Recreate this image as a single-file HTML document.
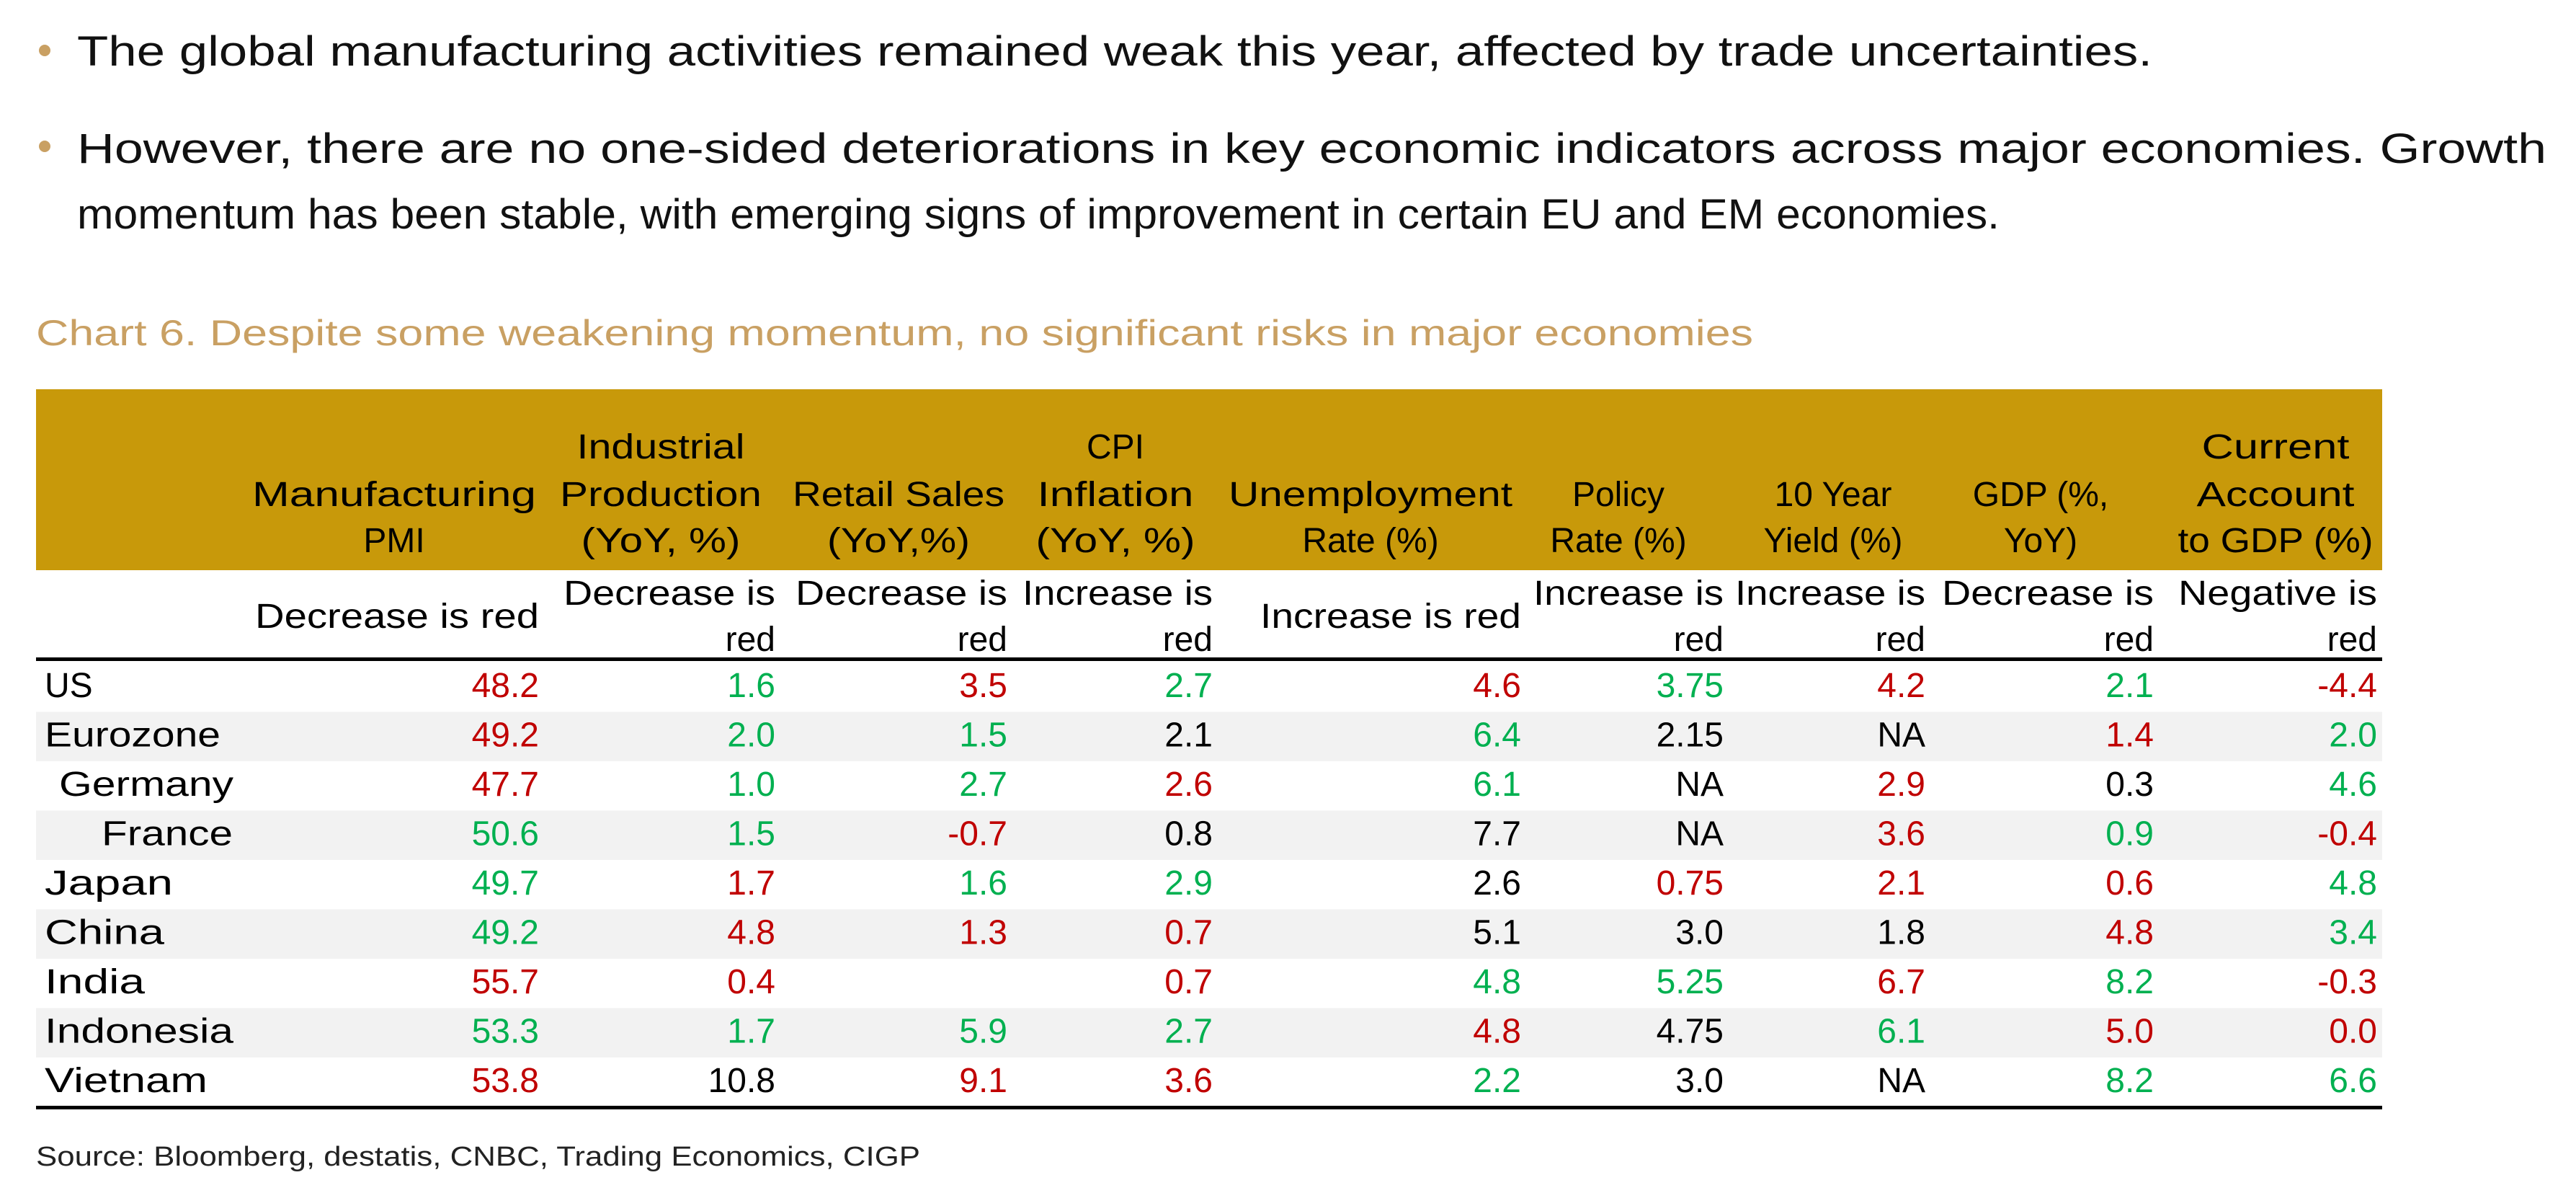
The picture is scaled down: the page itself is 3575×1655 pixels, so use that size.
<!DOCTYPE html>
<html><head><meta charset="utf-8"><style>html,body{margin:0;padding:0;background:#fff}svg{display:block}text{font-family:"Liberation Sans",sans-serif}</style></head><body>
<svg width="3575" height="1655" viewBox="0 0 3575 1655" xmlns="http://www.w3.org/2000/svg">
<rect width="3575" height="1655" fill="#fff"/>
<circle cx="62" cy="70" r="8" fill="#C9A063"/>
<text x="107" y="91" font-size="58" textLength="2880" lengthAdjust="spacingAndGlyphs" fill="#111">The global manufacturing activities remained weak this year, affected by trade uncertainties.</text>
<circle cx="62" cy="203" r="8" fill="#C9A063"/>
<text x="107" y="226" font-size="58" textLength="3427" lengthAdjust="spacingAndGlyphs" fill="#111">However, there are no one-sided deteriorations in key economic indicators across major economies. Growth</text>
<text x="107" y="317" font-size="58" textLength="2668" lengthAdjust="spacingAndGlyphs" fill="#111">momentum has been stable, with emerging signs of improvement in certain EU and EM economies.</text>
<text x="50" y="479" font-size="50" textLength="2383" lengthAdjust="spacingAndGlyphs" fill="#C9A063">Chart 6. Despite some weakening momentum, no significant risks in major economies</text>
<rect x="50" y="540" width="3256" height="251" fill="#C8990A"/>
<g font-size="48" fill="#000" text-anchor="middle">
<text x="547" y="702" textLength="394" lengthAdjust="spacingAndGlyphs">Manufacturing</text><text x="547" y="766">PMI</text>
<text x="917" y="636" textLength="233" lengthAdjust="spacingAndGlyphs">Industrial</text><text x="917" y="702" textLength="280" lengthAdjust="spacingAndGlyphs">Production</text><text x="917" y="766" textLength="221" lengthAdjust="spacingAndGlyphs">(YoY, %)</text>
<text x="1247" y="702" textLength="294" lengthAdjust="spacingAndGlyphs">Retail Sales</text><text x="1247" y="766" textLength="198" lengthAdjust="spacingAndGlyphs">(YoY,%)</text>
<text x="1548" y="636">CPI</text><text x="1548" y="702" textLength="217" lengthAdjust="spacingAndGlyphs">Inflation</text><text x="1548" y="766" textLength="221" lengthAdjust="spacingAndGlyphs">(YoY, %)</text>
<text x="1902" y="702" textLength="394" lengthAdjust="spacingAndGlyphs">Unemployment</text><text x="1902" y="766">Rate (%)</text>
<text x="2246" y="702">Policy</text><text x="2246" y="766">Rate (%)</text>
<text x="2544" y="702">10 Year</text><text x="2544" y="766">Yield (%)</text>
<text x="2832" y="702">GDP (%,</text><text x="2832" y="766">YoY)</text>
<text x="3158" y="636" textLength="205" lengthAdjust="spacingAndGlyphs">Current</text><text x="3158" y="702" textLength="219" lengthAdjust="spacingAndGlyphs">Account</text><text x="3158" y="766" textLength="271" lengthAdjust="spacingAndGlyphs">to GDP (%)</text>
</g>
<g font-size="48" fill="#000" text-anchor="end">
<text x="748" y="871" textLength="394" lengthAdjust="spacingAndGlyphs">Decrease is red</text>
<text x="1076" y="839" textLength="294" lengthAdjust="spacingAndGlyphs">Decrease is</text><text x="1076" y="903">red</text>
<text x="1398" y="839" textLength="294" lengthAdjust="spacingAndGlyphs">Decrease is</text><text x="1398" y="903">red</text>
<text x="1683" y="839" textLength="264" lengthAdjust="spacingAndGlyphs">Increase is</text><text x="1683" y="903">red</text>
<text x="2111" y="871" textLength="362" lengthAdjust="spacingAndGlyphs">Increase is red</text>
<text x="2392" y="839" textLength="264" lengthAdjust="spacingAndGlyphs">Increase is</text><text x="2392" y="903">red</text>
<text x="2672" y="839" textLength="264" lengthAdjust="spacingAndGlyphs">Increase is</text><text x="2672" y="903">red</text>
<text x="2989" y="839" textLength="294" lengthAdjust="spacingAndGlyphs">Decrease is</text><text x="2989" y="903">red</text>
<text x="3299" y="839" textLength="276" lengthAdjust="spacingAndGlyphs">Negative is</text><text x="3299" y="903">red</text>
</g>
<rect x="50" y="987.5" width="3256" height="68.5" fill="#F2F2F2"/>
<rect x="50" y="1124.5" width="3256" height="68.5" fill="#F2F2F2"/>
<rect x="50" y="1261.5" width="3256" height="68.5" fill="#F2F2F2"/>
<rect x="50" y="1398.5" width="3256" height="68.5" fill="#F2F2F2"/>
<rect x="50" y="912" width="3256" height="5" fill="#000"/>
<rect x="50" y="1534" width="3256" height="5" fill="#000"/>
<g font-size="48" fill="#000">
<text x="62" y="967">US</text>
<text x="62" y="1035.5" textLength="244" lengthAdjust="spacingAndGlyphs">Eurozone</text>
<text x="82" y="1104" textLength="242" lengthAdjust="spacingAndGlyphs">Germany</text>
<text x="141" y="1172.5" textLength="182" lengthAdjust="spacingAndGlyphs">France</text>
<text x="62" y="1241" textLength="178" lengthAdjust="spacingAndGlyphs">Japan</text>
<text x="62" y="1309.5" textLength="166" lengthAdjust="spacingAndGlyphs">China</text>
<text x="62" y="1378" textLength="139" lengthAdjust="spacingAndGlyphs">India</text>
<text x="62" y="1446.5" textLength="262" lengthAdjust="spacingAndGlyphs">Indonesia</text>
<text x="62" y="1515" textLength="226" lengthAdjust="spacingAndGlyphs">Vietnam</text>
</g>
<g font-size="48" text-anchor="end">
<text x="748" y="967" fill="#C00000">48.2</text><text x="1076" y="967" fill="#00B050">1.6</text><text x="1398" y="967" fill="#C00000">3.5</text><text x="1683" y="967" fill="#00B050">2.7</text><text x="2111" y="967" fill="#C00000">4.6</text><text x="2392" y="967" fill="#00B050">3.75</text><text x="2672" y="967" fill="#C00000">4.2</text><text x="2989" y="967" fill="#00B050">2.1</text><text x="3299" y="967" fill="#C00000">-4.4</text>
<text x="748" y="1035.5" fill="#C00000">49.2</text><text x="1076" y="1035.5" fill="#00B050">2.0</text><text x="1398" y="1035.5" fill="#00B050">1.5</text><text x="1683" y="1035.5" fill="#000">2.1</text><text x="2111" y="1035.5" fill="#00B050">6.4</text><text x="2392" y="1035.5" fill="#000">2.15</text><text x="2672" y="1035.5" fill="#000">NA</text><text x="2989" y="1035.5" fill="#C00000">1.4</text><text x="3299" y="1035.5" fill="#00B050">2.0</text>
<text x="748" y="1104" fill="#C00000">47.7</text><text x="1076" y="1104" fill="#00B050">1.0</text><text x="1398" y="1104" fill="#00B050">2.7</text><text x="1683" y="1104" fill="#C00000">2.6</text><text x="2111" y="1104" fill="#00B050">6.1</text><text x="2392" y="1104" fill="#000">NA</text><text x="2672" y="1104" fill="#C00000">2.9</text><text x="2989" y="1104" fill="#000">0.3</text><text x="3299" y="1104" fill="#00B050">4.6</text>
<text x="748" y="1172.5" fill="#00B050">50.6</text><text x="1076" y="1172.5" fill="#00B050">1.5</text><text x="1398" y="1172.5" fill="#C00000">-0.7</text><text x="1683" y="1172.5" fill="#000">0.8</text><text x="2111" y="1172.5" fill="#000">7.7</text><text x="2392" y="1172.5" fill="#000">NA</text><text x="2672" y="1172.5" fill="#C00000">3.6</text><text x="2989" y="1172.5" fill="#00B050">0.9</text><text x="3299" y="1172.5" fill="#C00000">-0.4</text>
<text x="748" y="1241" fill="#00B050">49.7</text><text x="1076" y="1241" fill="#C00000">1.7</text><text x="1398" y="1241" fill="#00B050">1.6</text><text x="1683" y="1241" fill="#00B050">2.9</text><text x="2111" y="1241" fill="#000">2.6</text><text x="2392" y="1241" fill="#C00000">0.75</text><text x="2672" y="1241" fill="#C00000">2.1</text><text x="2989" y="1241" fill="#C00000">0.6</text><text x="3299" y="1241" fill="#00B050">4.8</text>
<text x="748" y="1309.5" fill="#00B050">49.2</text><text x="1076" y="1309.5" fill="#C00000">4.8</text><text x="1398" y="1309.5" fill="#C00000">1.3</text><text x="1683" y="1309.5" fill="#C00000">0.7</text><text x="2111" y="1309.5" fill="#000">5.1</text><text x="2392" y="1309.5" fill="#000">3.0</text><text x="2672" y="1309.5" fill="#000">1.8</text><text x="2989" y="1309.5" fill="#C00000">4.8</text><text x="3299" y="1309.5" fill="#00B050">3.4</text>
<text x="748" y="1378" fill="#C00000">55.7</text><text x="1076" y="1378" fill="#C00000">0.4</text><text x="1683" y="1378" fill="#C00000">0.7</text><text x="2111" y="1378" fill="#00B050">4.8</text><text x="2392" y="1378" fill="#00B050">5.25</text><text x="2672" y="1378" fill="#C00000">6.7</text><text x="2989" y="1378" fill="#00B050">8.2</text><text x="3299" y="1378" fill="#C00000">-0.3</text>
<text x="748" y="1446.5" fill="#00B050">53.3</text><text x="1076" y="1446.5" fill="#00B050">1.7</text><text x="1398" y="1446.5" fill="#00B050">5.9</text><text x="1683" y="1446.5" fill="#00B050">2.7</text><text x="2111" y="1446.5" fill="#C00000">4.8</text><text x="2392" y="1446.5" fill="#000">4.75</text><text x="2672" y="1446.5" fill="#00B050">6.1</text><text x="2989" y="1446.5" fill="#C00000">5.0</text><text x="3299" y="1446.5" fill="#C00000">0.0</text>
<text x="748" y="1515" fill="#C00000">53.8</text><text x="1076" y="1515" fill="#000">10.8</text><text x="1398" y="1515" fill="#C00000">9.1</text><text x="1683" y="1515" fill="#C00000">3.6</text><text x="2111" y="1515" fill="#00B050">2.2</text><text x="2392" y="1515" fill="#000">3.0</text><text x="2672" y="1515" fill="#000">NA</text><text x="2989" y="1515" fill="#00B050">8.2</text><text x="3299" y="1515" fill="#00B050">6.6</text>
</g>
<text x="50" y="1617" font-size="38" textLength="1227" lengthAdjust="spacingAndGlyphs" fill="#222">Source: Bloomberg, destatis, CNBC, Trading Economics, CIGP</text>
</svg>
</body></html>
